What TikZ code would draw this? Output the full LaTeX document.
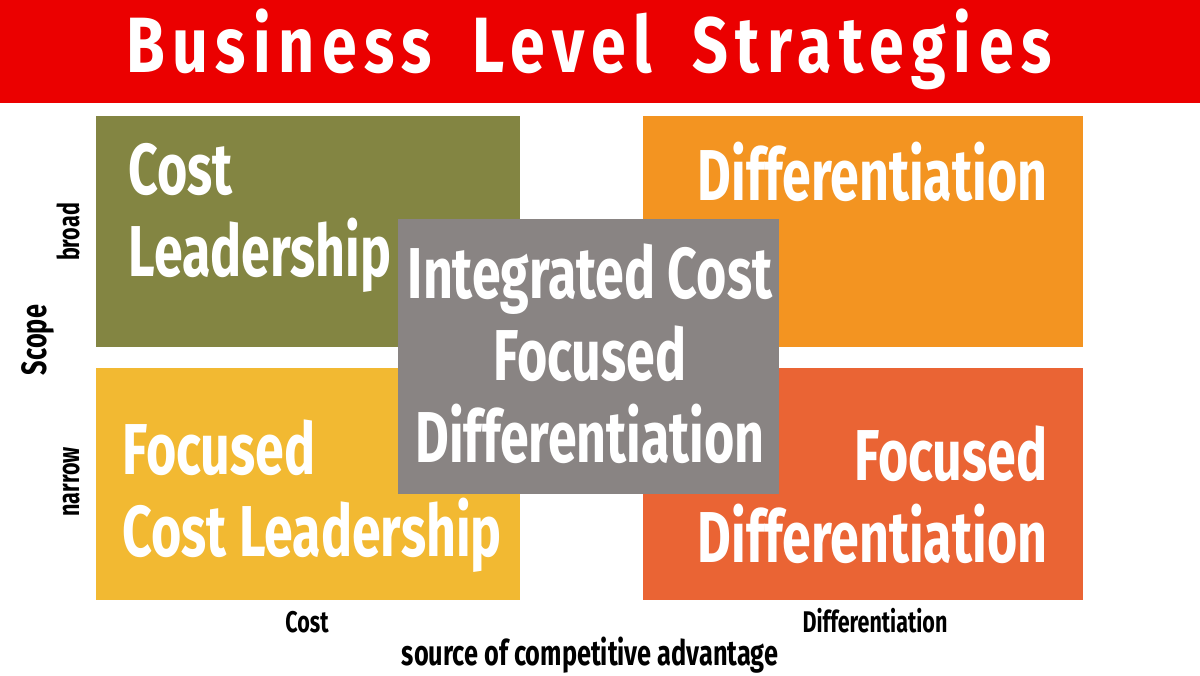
\documentclass[tikz,border=0pt]{standalone}
\usepackage{fontspec}
\setmainfont{Fira Sans}[FakeStretch=0.72]
\newfontfamily\titlefont{Fira Sans}[FakeStretch=0.8,LetterSpace=9.5,WordSpace=1.8]

\definecolor{bannerred}{HTML}{EB0000}
\definecolor{olivebox}{HTML}{838542}
\definecolor{yellowbox}{HTML}{F2B932}
\definecolor{orangebox}{HTML}{F39421}
\definecolor{redbox}{HTML}{EA6434}
\definecolor{graybox}{HTML}{898483}

\tikzset{
  boxtext/.style={text=white,inner sep=0pt,font=\fontsize{20.5}{23.3}\selectfont\bfseries},
  axistext/.style={inner sep=0pt,font=\fontsize{8.5}{10}\selectfont\bfseries}
}

\begin{document}
\begin{tikzpicture}[x=0.01cm,y=-0.01cm]

\useasboundingbox (0,0) rectangle (1200,675);

\fill[bannerred] (0,0) rectangle (1200,103);
\node[text=white,inner sep=0pt,anchor=base,font=\titlefont\fontsize{22.3}{26}\selectfont\bfseries] (title) at (589,72) {Business Level Strategies};

% the four strategies
\fill[olivebox] (96,116) rectangle (520,347);
\fill[yellowbox] (96,368) rectangle (520,600);
\fill[orangebox] (643,116) rectangle (1083,347);
\fill[redbox] (643,368) rectangle (1083,600);

\node[boxtext,anchor=north west,align=left] (costlead) at (128,143) {Cost\\Leadership};
\node[boxtext,anchor=north east,align=right] (diff) at (1048,141) {Differentiation};
\node[boxtext,anchor=north west,align=left] (focuscost) at (122,419) {Focused\\Cost Leadership};
\node[boxtext,anchor=north east,align=right] (focusdiff) at (1048,425) {Focused\\Differentiation};

% integrated one on top
\fill[graybox] (398,219) rectangle (779,494);
\node[boxtext,anchor=north,align=center] (integ) at (590,243) {Integrated Cost\\Focused\\Differentiation};

% axes
\node[axistext,anchor=base,rotate=90,font=\fontsize{10}{12}\selectfont\bfseries] (scope) at (47,340) {Scope};
\node[axistext,anchor=base,rotate=90] (broad) at (79,232) {broad};
\node[axistext,anchor=base,rotate=90] (narrow) at (79,482) {narrow};
\node[axistext,anchor=base] (costax) at (307,632) {Cost};
\node[axistext,anchor=base] (diffax) at (875,632) {Differentiation};
\node[axistext,anchor=base,font=\fontsize{10}{12}\selectfont\bfseries] (source) at (590,665) {source of competitive advantage};

\end{tikzpicture}
\end{document}
